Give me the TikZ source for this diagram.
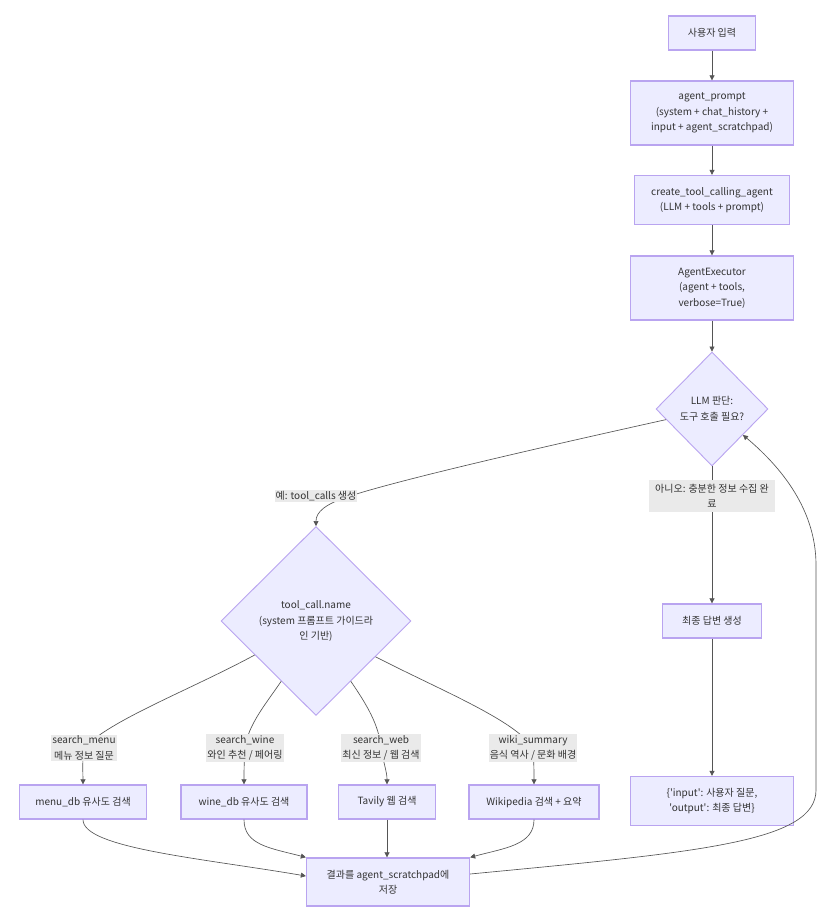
\documentclass[tikz,border=0pt]{standalone}
\usepackage{fontspec}
\newfontfamily\krfont{Noto Sans CJK KR}
\setmainfont{Noto Sans CJK KR}
\usetikzlibrary{shapes.geometric,arrows.meta}
\definecolor{nfill}{HTML}{ECECFF}
\definecolor{nborder}{HTML}{B9A4F0}
\definecolor{ntext}{HTML}{333333}
\definecolor{ecol}{HTML}{555555}
\definecolor{lfill}{HTML}{EAEAEA}
\begin{document}
\begin{tikzpicture}[x=1pt,y=-1pt,
  txt/.style={text=ntext, font=\krfont\fontsize{10}{15.5}\selectfont, align=center},
  box/.style={txt, draw=nborder, fill=nfill, line width=1.3pt, rectangle, inner sep=0pt},
  dia/.style={txt, draw=nborder, fill=nfill, line width=0.9pt, diamond, inner sep=0pt},
  lbl/.style={txt, fill=lfill, inner sep=1pt},
  edge/.style={draw=ecol, line width=0.65pt, -{Triangle[length=5pt,width=5pt]}},
]
\useasboundingbox (0,0) rectangle (836,917);
\fill[white] (0,0) rectangle (836,917);

% main column
\node[box, minimum width=87pt, minimum height=34pt] (user) at (712,33) {사용자 입력};
\node[box, minimum width=163pt, minimum height=64pt] (prompt) at (712,113) {agent\_prompt\\(system + chat\_history +\\input + agent\_scratchpad)};
\node[box, minimum width=155pt, minimum height=49pt] (create) at (712,200) {create\_tool\_calling\_agent\\(LLM + tools + prompt)};
\node[box, minimum width=163pt, minimum height=64pt] (exec) at (712,288) {AgentExecutor\\(agent + tools,\\verbose=True)};
\node[dia, minimum width=112pt, minimum height=114pt] (llm) at (712,409) {LLM 판단:\\도구 호출 필요?};
\node[box, minimum width=99pt, minimum height=34pt] (fin) at (712,621) {최종 답변 생성};
\node[box, minimum width=163pt, minimum height=49pt] (out) at (712,801) {\{'input': 사용자 질문,\\'output': 최종 답변\}};

% tool branch
\node[dia, minimum width=190pt, minimum height=189pt] (tc) at (316,621) {tool\_call.name\\(system 프롬프트 가이드라\\인 기반)};
\node[box, minimum width=127pt, minimum height=34pt] (menu) at (83,802) {menu\_db 유사도 검색};
\node[box, minimum width=126pt, minimum height=34pt] (wine) at (244,802) {wine\_db 유사도 검색};
\node[box, minimum width=97pt, minimum height=34pt] (web) at (387,802) {Tavily 웹 검색};
\node[box, minimum width=130pt, minimum height=34pt] (wiki) at (534,802) {Wikipedia 검색 + 요약};
\node[box, minimum width=163pt, minimum height=48pt] (res) at (388,882) {결과를 agent\_scratchpad에\\저장};

% label positions
\coordinate (lno) at (712,496);
\coordinate (lyes) at (316,496);
\coordinate (lm) at (84,748);
\coordinate (lw) at (245,748);
\coordinate (lweb) at (381,748);
\coordinate (lwiki) at (533,748);

% edges
\draw[edge] (user) -- (prompt);
\draw[edge] (prompt) -- (create);
\draw[edge] (create) -- (exec);
\draw[edge] (exec) -- (llm);
\draw[edge] (llm.south) -- (fin.north);
\draw[edge] (fin) -- (out);
\draw[edge] (llm.193) .. controls (520,452) and (400,480) .. (350,496) .. controls (325,504) and (316,512) .. (tc.north);

\draw[edge] (tc.209) .. controls (190,690) and (110,720) .. (lm) .. controls (82,765) and (83,772) .. (menu.north);
\draw[edge] (tc.240) .. controls (265,705) and (248,725) .. (lw) .. controls (244,765) and (244,772) .. (wine.north);
\draw[edge] (tc.300) .. controls (367,705) and (379,725) .. (lweb) .. controls (384,765) and (387,772) .. (web.north);
\draw[edge] (tc.329) .. controls (440,690) and (515,720) .. (lwiki) .. controls (534,765) and (534,772) .. (wiki.north);

\draw[edge] (menu.south) .. controls (83,848) and (200,858) .. ([yshift=6pt]res.west);
\draw[edge] (wine.south) .. controls (244,845) and (270,848) .. (res.north west);
\draw[edge] (web.south) -- (web.south |- res.north);
\draw[edge] (wiki.south) .. controls (534,845) and (505,848) .. (res.north east);

\draw[edge] ([yshift=8pt]res.east) .. controls (700,852) and (816,842) .. (816,790) -- (816,565) .. controls (816,505) and (775,462) .. (llm.320);

% labels
\node[lbl, minimum width=126pt, minimum height=32pt] at (lno) {아니오: 충분한 정보 수집 완\\료};
\node[lbl] at (lyes) {예: tool\_calls 생성};
\node[lbl] at (lm) {search\_menu\\메뉴 정보 질문};
\node[lbl] at (lw) {search\_wine\\와인 추천 / 페어링};
\node[lbl] at (lweb) {search\_web\\최신 정보 / 웹 검색};
\node[lbl] at (lwiki) {wiki\_summary\\음식 역사 / 문화 배경};
\end{tikzpicture}
\end{document}
